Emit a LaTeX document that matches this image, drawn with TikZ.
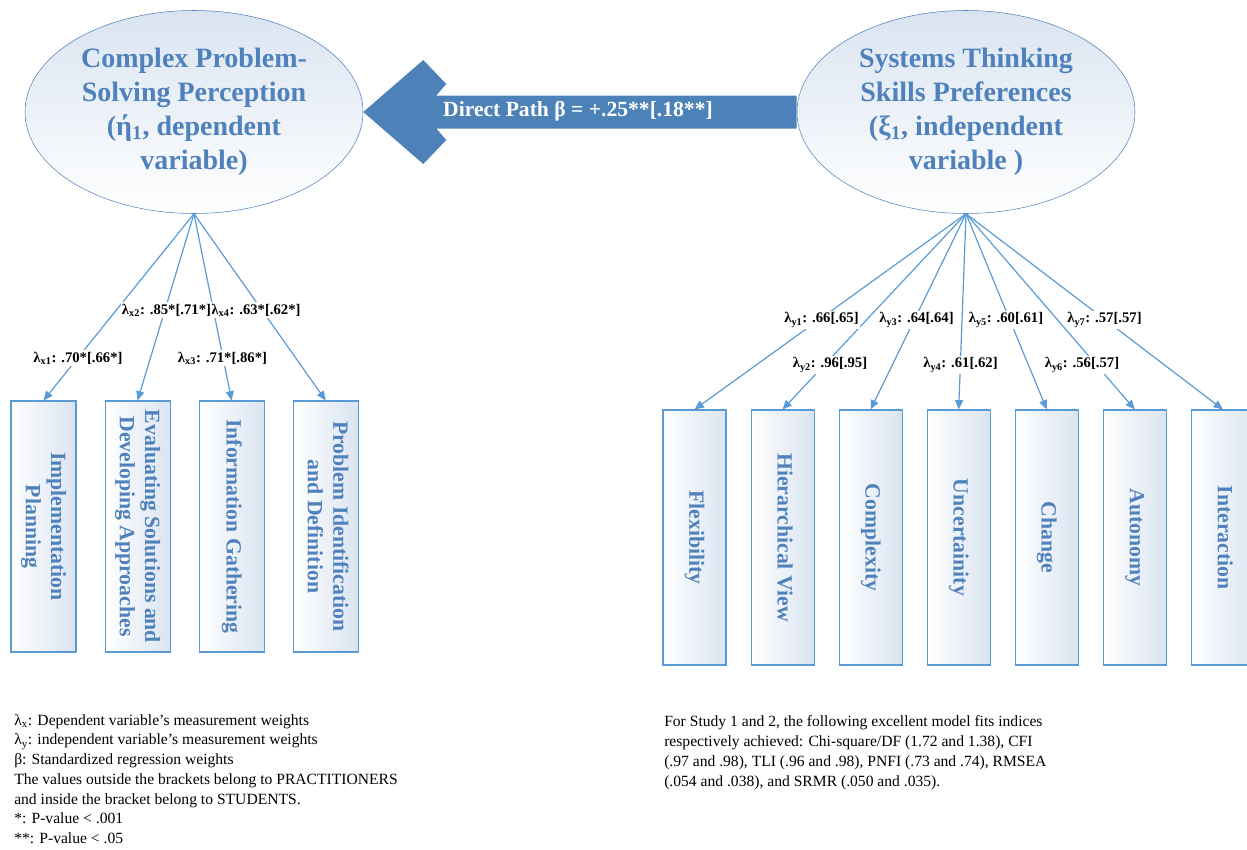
\documentclass[tikz,border=0pt]{standalone}
\usepackage{fontspec}
\setmainfont{Liberation Serif}
\usepackage{xcolor}
\usepackage{tikz}
\usetikzlibrary{arrows.meta,calc,positioning,shapes.geometric}

\definecolor{txtblue}{RGB}{79,129,189}
\definecolor{lineblue}{RGB}{91,155,213}
\definecolor{arrowblue}{RGB}{77,130,185}
\definecolor{paleblue}{RGB}{218,228,241}

\newcommand{\vtext}[1]{\rotatebox{-90}{\begin{tabular}{@{}c@{}}#1\end{tabular}}}

\begin{document}
\begin{tikzpicture}[
    x=0.75pt, y=-0.75pt,
    latent/.style={ellipse, draw=txtblue, thin, top color=paleblue, bottom color=white, minimum width=253.5pt, minimum height=152.25pt, inner sep=0pt, align=center, text=txtblue, font=\fontsize{21}{25.5}\selectfont\bfseries},
    lbox/.style={rectangle, draw=lineblue, thick, left color=white, right color=paleblue, minimum width=48.75pt, minimum height=188.25pt, inner sep=0pt, text=txtblue, font=\fontsize{16.3}{19}\selectfont\bfseries},
    rbox/.style={lbox, minimum width=47.25pt, minimum height=191.25pt},
    load/.style={-{Triangle[length=7pt,width=6pt]}, draw=lineblue, line width=0.9pt},
    wt/.style={fill=white, inner sep=1pt, font=\fontsize{11}{12}\selectfont\bfseries},
    note/.style={anchor=north west, align=left, inner sep=0pt, font=\fontsize{11.7}{14.8}\selectfont},
  ]
    \useasboundingbox (0,0) rectangle (1247,850);

    \node[latent] (cps) at (194,112) {Complex Problem-\\Solving Perception\\(ή\textsubscript{1}, dependent\\variable)};
    \node[latent] (stp) at (966,112) {Systems Thinking\\Skills Preferences\\(ξ\textsubscript{1}, independent\\variable )};

    % block arrow between the two latent variables
    \fill[arrowblue] (cps.east) -- ++(60,-52) -- ++(23,24) -- ++(-10,11.5)
      -- ($(stp.west)+(0,-16.5)$) -- ($(stp.west)+(0,16.5)$)
      -- ($(cps.east)+(73,16.5)$) -- ++(10,11.5) -- ++(-23,24) -- cycle;
    \node[text=white, font=\fontsize{16.2}{19}\selectfont\bfseries] (beta) at (578,111) {Direct Path β = +.25**[.18**]};

    \node[lbox] (ip) at (43.5,526.5) {\vtext{Implementation\\Planning}};
    \node[lbox, right=21pt of ip] (es) {\vtext{Evaluating Solutions and\\Developing Approaches}};
    \node[lbox, right=21pt of es] (ig) {\vtext{Information Gathering}};
    \node[lbox, right=21pt of ig] (pi) {\vtext{Problem Identification\\and Definition}};

    \node[rbox] (fl) at (694.5,537.5) {\vtext{Flexibility}};
    \node[rbox, right=18pt of fl] (hv) {\vtext{Hierarchical View}};
    \node[rbox, right=18pt of hv] (cx) {\vtext{Complexity}};
    \node[rbox, right=18pt of cx] (un) {\vtext{Uncertainity}};
    \node[rbox, right=18pt of un] (ch) {\vtext{Change}};
    \node[rbox, right=18pt of ch] (au) {\vtext{Autonomy}};
    \node[rbox, right=18pt of au] (ia) {\vtext{Interaction}};

    \foreach \b in {ip,es,ig,pi}
      \draw[load] (cps.south) -- (\b.north);
    \foreach \b in {fl,hv,cx,un,ch,au,ia}
      \draw[load] (stp.south) -- (\b.north);

    \node[wt] (x1) at (78,358) {λ\textsubscript{x1}: .70*[.66*]};
    \node[wt] (x3) at (222.5,358) {λ\textsubscript{x3}: .71*[.86*]};
    \node[wt] (x4) at (256,310) {λ\textsubscript{x4}: .63*[.62*]};
    \node[wt] (x2) at (166.5,310) {λ\textsubscript{x2}: .85*[.71*]};

    \node[wt] (y1) at (821.5,320) {λ\textsubscript{y1}: .66[.65]};
    \node[wt] (y3) at (916.5,320) {λ\textsubscript{y3}: .64[.64]};
    \node[wt] (y5) at (1006,320) {λ\textsubscript{y5}: .60[.61]};
    \node[wt] (y7) at (1104.5,320) {λ\textsubscript{y7}: .57[.57]};
    \node[wt] (y2) at (830,365) {λ\textsubscript{y2}: .96[.95]};
    \node[wt] (y4) at (960.5,365) {λ\textsubscript{y4}: .61[.62]};
    \node[wt] (y6) at (1082,365) {λ\textsubscript{y6}: .56[.57]};

    \node[note] (legend) at (14,714) {λ\textsubscript{x}: Dependent variable’s measurement weights\\
      λ\textsubscript{y}: independent variable’s measurement weights\\
      β: Standardized regression weights\\
      The values outside the brackets belong to PRACTITIONERS\\
      and inside the bracket belong to STUDENTS.\\
      *: P-value < .001\\
      **: P-value < .05};

    \node[note, font=\fontsize{11.7}{15}\selectfont] (fit) at (664,715) {For Study 1 and 2, the following excellent model fits indices\\
      respectively achieved: Chi-square/DF (1.72 and 1.38), CFI\\
      (.97 and .98), TLI (.96 and .98), PNFI (.73 and .74), RMSEA\\
      (.054 and .038), and SRMR (.050 and .035).};
  \end{tikzpicture}
\end{document}
